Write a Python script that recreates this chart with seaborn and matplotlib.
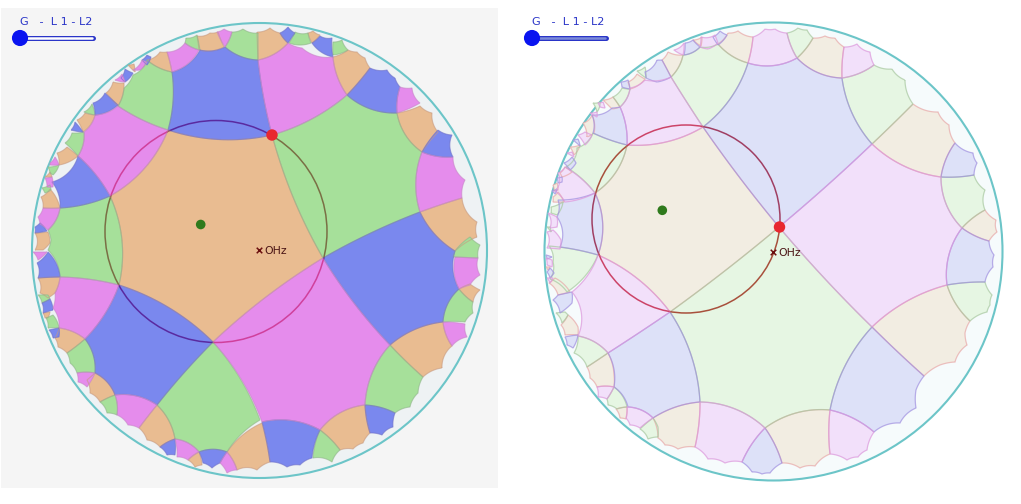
import numpy as np
import pandas as pd
import matplotlib
matplotlib.use('Agg')
import matplotlib.pyplot as plt
import seaborn as sns
from matplotlib.patches import Polygon, Rectangle, Circle

# corner points of the cells in pixels
left_orange = [
    [(168,130),(272,135),(323,258),(213,342),(119,285),(110,196)],
    [(147,60),(160,52),(167,52),(172,72)],
    [(199,50),(197,36),(210,33),(218,32),(224,47)],
    [(257,32),(270,28),(280,33),(288,43),(258,60)],
    [(308,33),(313,31),(320,35),(312,43)],
    [(333,57),(348,50),(357,52),(365,58),(370,68),(347,95)],
    [(397,113),(420,106),(432,113),(438,132),(422,152)],
    [(420,212),(462,198),(477,222),(477,237),(455,251)],
    [(459,289),(470,284),(480,290),(473,302)],
    [(390,345),(443,322),(452,346),(442,368),(423,377)],
    [(320,430),(365,405),(370,433),(363,443),(353,449),(340,450)],
    [(227,452),(262,423),(270,462),(257,470),(237,470)],
    [(188,460),(199,452),(202,465),(195,467)],
    [(139,428),(157,405),(175,439),(160,447),(147,440)],
    [(87,380),(95,373),(115,395),(100,402),(90,393)],
    [(55,338),(59,328),(85,339),(67,353),(58,347)],
    [(43,313),(50,312),(48,318),(45,318)],
    [(38,278),(60,277),(55,293),(48,298),(40,293)],
    [(35,233),(48,232),(50,243),(43,250),(35,250)],
    [(41,197),(50,189),(60,208),(43,208)],
    [(45,177),(50,172),(52,177)],
    [(57,153),(67,147),(78,156),(59,165)],
    [(77,120),(85,113),(95,115),(83,132)],
    [(106,93),(113,82),(124,83),(118,106)],
    [(128,65),(134,64),(135,72)],
]
left_green = [
    [(272,135),(347,95),(397,113),(422,152),(420,212),(323,258)],
    [(213,342),(260,420),(227,452),(199,452),(175,439),(157,405)],
    [(110,196),(119,285),(60,277),(48,250),(51,240),(48,230),(60,208)],
    [(168,130),(118,106),(124,88),(133,75),(147,60),(172,72)],
    [(185,43),(186,38),(197,35),(200,50)],
    [(225,47),(232,32),(243,29),(258,33),(258,60)],
    [(289,43),(295,32),(308,33),(311,43)],
    [(333,55),(333,42),(342,40),(348,50)],
    [(455,251),(470,237),(480,245),(478,258),(453,257)],
    [(459,289),(473,302),(473,313),(465,322),(443,322)],
    [(390,345),(423,377),(418,393),(410,407),(395,413),(365,405)],
    [(320,430),(340,450),(332,462),(313,458)],
    [(100,402),(115,395),(117,415),(107,413)],
    [(67,353),(85,339),(95,373),(77,373),(70,363)],
    [(46,318),(53,315),(59,328),(48,328)],
    [(38,295),(48,295),(50,299),(42,303)],
    [(42,188),(50,185),(51,190),(45,193)],
    [(48,167),(59,165),(53,175),(50,173)],
    [(65,143),(72,133),(84,132),(78,156)],
    [(84,112),(92,104),(95,115)],
]
left_blue = [
    [(168,130),(172,72),(200,50),(225,47),(258,60),(272,135)],
    [(323,258),(420,212),(455,251),(453,270),(459,289),(443,322),(390,345)],
    [(213,342),(119,285),(85,339),(95,373),(115,395),(157,405)],
    [(110,196),(60,208),(52,182),(78,156)],
    [(280,33),(288,27),(295,33),(292,37),(288,43)],
    [(312,43),(320,36),(332,38),(333,57)],
    [(347,95),(370,68),(387,70),(395,78),(400,87),(397,113)],
    [(422,152),(438,130),(452,135),(453,157)],
    [(365,405),(395,413),(393,427),(382,435),(370,433)],
    [(262,422),(320,430),(312,458),(300,465),(287,467),(270,462)],
    [(199,452),(227,452),(220,463),(212,468),(203,463)],
    [(160,447),(175,439),(175,455),(167,455)],
    [(49,330),(59,328),(59,337),(53,338)],
    [(42,303),(50,299),(53,310),(43,313)],
    [(37,263),(48,252),(60,277),(38,278)],
    [(35,227),(40,223),(47,231),(35,233)],
    [(71,130),(75,122),(83,132)],
    [(93,103),(105,93),(118,105),(95,115)],
    [(121,78),(125,69),(133,73),(125,82)],
    [(142,60),(147,55),(151,57),(147,65)],
]
left_magenta = [
    [(213,342),(323,258),(390,345),(365,405),(320,430),(262,422)],
    [(119,285),(60,277),(55,293),(53,308),(59,328),(85,339)],
    [(168,130),(110,196),(78,156),(84,132),(95,115),(118,106)],
    [(172,72),(167,52),(185,43),(199,50)],
    [(217,32),(224,29),(232,32),(225,47)],
    [(258,60),(288,43),(302,48),(333,57),(347,95),(272,135)],
    [(400,87),(412,88),(420,103),(397,113)],
    [(422,152),(453,157),(465,180),(462,198),(420,212)],
    [(455,257),(478,258),(480,275),(470,285),(459,289)],
    [(443,322),(465,324),(467,337),(452,346)],
    [(220,463),(227,452),(237,470),(227,473)],
    [(175,439),(199,452),(188,460),(177,457)],
    [(115,395),(157,405),(139,428),(128,425),(117,415)],
    [(77,373),(95,373),(87,387),(78,382)],
    [(33,252),(47,252),(38,260)],
    [(38,217),(43,208),(60,208),(48,230),(40,224)],
    [(45,178),(52,177),(53,187),(47,187)],
    [(50,163),(55,157),(59,165),(50,165)],
    [(115,80),(122,74),(125,82)],
    [(133,70),(142,60),(147,62),(140,70)],
]

right_orange = [
    [(703,127),(779,227),(670,312),(598,255),(595,193),(627,145)],
    [(718,44),(728,33),(738,31),(753,37),(748,63)],
    [(797,58),(813,38),(825,36),(835,38),(844,47),(842,78)],
    [(872,144),(913,104),(938,112),(949,125),(955,143),(941,177)],
    [(962,228),(985,210),(996,220),(997,232),(989,241)],
    [(872,327),(947,285),(970,321),(965,333),(967,345),(955,362),(940,365),(924,376)],
    [(765,428),(830,410),(830,454),(815,466),(800,468),(782,463)],
    [(653,418),(700,402),(695,447),(678,449),(665,445),(658,438)],
    [(603,100),(613,97),(620,107),(612,109)],
    [(628,82),(637,74),(645,79),(630,89)],
    [(662,60),(668,52),(683,55),(671,77)],
    [(693,40),(702,37),(701,46)],
    [(583,123),(592,115),(594,133),(587,137)],
    [(570,147),(580,145),(574,155)],
    [(560,173),(565,167),(572,172),(562,177)],
    [(553,185),(557,183),(558,190),(554,191)],
    [(553,197),(558,192),(564,202),(553,202)],
    [(546,267),(550,267),(548,270)],
    [(549,283),(555,278),(570,292),(558,295)],
    [(561,325),(568,315),(578,327),(578,335),(565,335)],
    [(587,367),(608,353),(614,375),(614,387),(597,387),(590,378)],
    [(616,409),(627,407),(626,419),(620,418)],
]
right_green = [
    [(670,312),(779,227),(872,327),(830,410),(765,428),(700,402)],
    [(703,127),(671,77),(683,55),(700,47),(718,44),(748,63)],
    [(787,33),(798,28),(807,30),(813,38),(797,58)],
    [(842,78),(874,65),(892,69),(905,80),(913,104),(872,144)],
    [(941,177),(974,175),(985,190),(985,210),(962,228)],
    [(947,285),(985,282),(992,295),(990,305),(987,312),(970,321)],
    [(598,255),(567,292),(550,279),(553,262),(549,246)],
    [(627,145),(595,193),(566,167),(577,148),(593,133)],
    [(613,97),(622,88),(630,89),(620,107)],
    [(637,71),(645,67),(646,78)],
    [(551,207),(563,202),(557,215),(551,213)],
    [(547,227),(550,227),(551,232)],
    [(556,313),(565,312),(568,315),(562,323)],
    [(574,353),(578,336),(608,353),(587,367)],
    [(607,399),(614,387),(627,407),(617,409),(608,405)],
    [(640,429),(653,418),(658,427),(658,437),(648,439)],
    [(593,103),(600,102),(597,112)],
]
right_blue = [
    [(703,127),(779,227),(872,144),(842,78),(797,58),(748,63)],
    [(941,177),(955,143),(973,153),(977,163),(974,175)],
    [(962,228),(989,241),(994,255),(993,267),(985,282),(947,285)],
    [(872,327),(924,376),(916,390),(916,408),(900,423),(874,432),(830,410)],
    [(765,428),(782,463),(770,473),(762,474),(752,472),(742,462)],
    [(608,353),(670,312),(700,402),(653,418),(628,407),(614,387)],
    [(595,193),(598,255),(560,247),(557,217),(558,200)],
    [(627,145),(593,133),(592,115),(612,108),(620,107)],
    [(621,82),(628,80),(630,89),(622,87)],
    [(645,72),(657,60),(662,60),(671,77),(657,82),(646,78)],
    [(685,43),(693,40),(700,47),(684,55)],
    [(713,37),(720,31),(727,35),(718,45)],
    [(573,140),(578,139),(580,146)],
    [(564,163),(572,157),(576,163),(570,170)],
    [(557,178),(562,177),(562,182),(558,183)],
    [(552,191),(557,189),(555,194)],
    [(546,255),(552,257),(547,259)],
    [(547,272),(550,268),(554,273),(550,278)],
    [(553,300),(558,295),(572,292),(572,303),(560,313)],
    [(565,337),(578,335),(573,348),(567,345)],
]
right_magenta = [
    [(779,227),(872,144),(941,177),(962,228),(947,285),(872,327)],
    [(703,127),(627,145),(620,107),(630,88),(645,80),(671,77)],
    [(598,255),(670,312),(608,353),(578,336),(572,292)],
    [(748,63),(753,37),(765,29),(775,29),(787,33),(797,58)],
    [(842,78),(844,47),(857,44),(870,52),(874,65)],
    [(830,410),(874,432),(867,450),(858,457),(847,460),(830,454)],
    [(700,402),(765,428),(742,462),(725,463),(708,459),(695,447)],
    [(565,167),(595,193),(565,202),(555,191),(558,173)],
    [(598,103),(603,102),(605,108),(600,107)],
    [(674,50),(684,43),(683,55)],
    [(701,37),(715,35),(718,43),(708,49),(700,47)],
    [(578,135),(585,132),(592,135),(585,145)],
    [(590,113),(597,112),(597,117)],
    [(567,153),(572,152),(574,157)],
    [(548,213),(557,217),(557,227),(550,228)],
    [(547,232),(553,230),(561,240),(560,249),(547,248)],
    [(546,258),(552,260),(552,267),(547,265)],
    [(547,278),(553,278),(550,283)],
    [(597,387),(614,387),(607,399),(598,397)],
    [(627,407),(653,418),(640,428),(630,425),(626,418)],
]

slider_label = 'G   -  L 1 - L2'
marker_label = 'OHz'
left_center_dot = (200.7, 224.5)
left_red_dot = (272, 135)
left_ohz = (259, 250)
right_center_dot = (662.3, 210.3)
right_red_dot = (779.5, 227)
right_ohz = (773, 252)

left_disc = (259.5, 250.5, 227.5)
right_disc = (773.5, 251.5, 229)
left_ring = (216, 231.5, 111)
right_ring = (686, 219, 94)

# the drawn arcs bend less than the rim circle would give
BEND_RADIUS = 1.045


def geodesic(p, q, disc, n=24):
    # hyperbolic segment between two cell corners
    cx, cy, r = disc
    r = r * BEND_RADIUS
    a = complex(p[0] - cx, p[1] - cy) / r
    b = complex(q[0] - cx, q[1] - cy) / r
    w = (b - a) / (1 - a.conjugate() * b)
    t = np.linspace(0, 1, n) * w
    z = (t + a) / (1 + a.conjugate() * t)
    return np.column_stack([z.real * r + cx, z.imag * r + cy])


def draw_cells(ax, cells, disc, fill, edge, edge_alpha, width, ring, ring_color):
    for cell in cells:
        pts = np.vstack([geodesic(cell[i], cell[(i + 1) % len(cell)], disc) for i in range(len(cell))])
        poly = Polygon(pts, closed=True, facecolor=fill, edgecolor='none', zorder=3)
        ax.add_patch(poly)
        ax.add_patch(Polygon(pts, closed=True, facecolor='none', edgecolor=edge, alpha=edge_alpha, lw=width, zorder=4))
        # the ring takes a different tint over each colour
        loop = Circle(ring[:2], ring[2], facecolor='none', edgecolor=ring_color, lw=1.1, zorder=5)
        ax.add_patch(loop)
        loop.set_clip_path(poly)


def draw_slider(ax, x0, x1, y, inner):
    ax.plot([x0, x1], [y, y], color='#2a35c8', lw=3.6, solid_capstyle='round', zorder=6)
    ax.plot([x0, x1 - 1], [y, y], color=inner, lw=1.8, solid_capstyle='round', zorder=7)
    sns.scatterplot(x=[x0], y=[y], ax=ax, color='#0a14f0', s=135, edgecolor='none', legend=False, zorder=8)
    ax.text(x0, y - 16, slider_label, color='#2a35c8', fontsize=8.1, ha='left', va='center',
            family='DejaVu Sans', zorder=8)


sns.set_theme(style='white')
plt.rcParams['font.family'] = ['DejaVu Sans']

fig = plt.figure(figsize=(10.21, 5.04), dpi=100)
ax = fig.add_axes([0, 0, 1, 1])
ax.set_xlim(0, 1021)
ax.set_ylim(504, 0)
ax.axis('off')

ax.add_patch(Rectangle((1, 8), 497, 480, facecolor='#f5f5f5', edgecolor='none', zorder=0))
ax.add_patch(Circle(left_disc[:2], left_disc[2], facecolor='#eef2f4', edgecolor='#6cc5c8', lw=1.5, zorder=1))
ax.add_patch(Circle(right_disc[:2], right_disc[2], facecolor='#f6fbfc', edgecolor='#6cc5c8', lw=1.5, zorder=1))

draw_cells(ax, left_orange, left_disc, '#e9bc91', '#c89a80', 0.6, 0.8, left_ring, '#9a5a60')
draw_cells(ax, left_green, left_disc, '#a6e09a', '#8fb58a', 0.6, 0.8, left_ring, '#7a6f45')
draw_cells(ax, left_blue, left_disc, '#7a88ee', '#6e70c8', 0.6, 0.8, left_ring, '#5a2aa0')
draw_cells(ax, left_magenta, left_disc, '#e58cec', '#c885c8', 0.6, 0.8, left_ring, '#d0409c')

draw_cells(ax, right_orange, right_disc, '#f2ede2', '#e8a8a8', 0.7, 0.9, right_ring, '#c2404f')
draw_cells(ax, right_green, right_disc, '#e6f6e3', '#a8c8a0', 0.7, 0.9, right_ring, '#a8503c')
draw_cells(ax, right_blue, right_disc, '#dde1f8', '#a090e0', 0.7, 0.9, right_ring, '#a03f63')
draw_cells(ax, right_magenta, right_disc, '#f2e0fa', '#dc98dc', 0.7, 0.9, right_ring, '#cc4468')

dots = pd.DataFrame({
    'x': [left_center_dot[0], right_center_dot[0]],
    'y': [left_center_dot[1], right_center_dot[1]],
})
sns.scatterplot(data=dots, x='x', y='y', ax=ax, color='#2f7a1c', s=48, edgecolor='none', legend=False, zorder=8)
reds = pd.DataFrame({
    'x': [left_red_dot[0], right_red_dot[0]],
    'y': [left_red_dot[1], right_red_dot[1]],
})
sns.scatterplot(data=reds, x='x', y='y', ax=ax, color='#e8272f', s=68, edgecolor='none', legend=False, zorder=8)
ohz = pd.DataFrame({'x': [left_ohz[0], right_ohz[0]], 'y': [left_ohz[1], right_ohz[1]]})
sns.scatterplot(data=ohz, x='x', y='y', ax=ax, color='#6b0f0f', s=16, marker='x', linewidth=1.1, legend=False, zorder=8)
for pos in (left_ohz, right_ohz):
    ax.text(pos[0] + 5, pos[1] + 1.5, marker_label, color='#4a1414', fontsize=7.8, va='center', ha='left', zorder=8)

draw_slider(ax, 20, 93, 38, 'white')
draw_slider(ax, 532, 606, 38, '#7c8bd8')

ax.set_xlabel('')
ax.set_ylabel('')
fig.savefig('out.png', dpi=100)
